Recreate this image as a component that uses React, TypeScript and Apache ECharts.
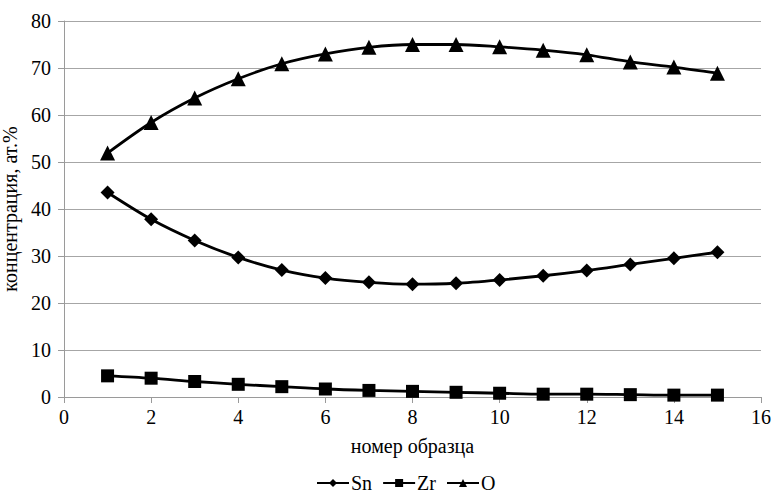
import React, { useEffect, useRef } from "react";
import * as echarts from "echarts";

const sampleNumbers = [1, 2, 3, 4, 5, 6, 7, 8, 9, 10, 11, 12, 13, 14, 15];
const snValues = [43.5, 37.8, 33.3, 29.7, 27.0, 25.3, 24.4, 24.0, 24.2, 24.9, 25.8, 26.9, 28.2, 29.5, 30.8];
const zrValues = [4.5, 4.0, 3.3, 2.7, 2.2, 1.7, 1.4, 1.2, 1.0, 0.8, 0.6, 0.6, 0.5, 0.4, 0.4];
const oValues = [51.9, 58.4, 63.6, 67.7, 70.9, 73.0, 74.4, 75.0, 75.0, 74.5, 73.8, 72.8, 71.3, 70.2, 68.9];

const FONT = "'Liberation Serif', 'Times New Roman', Times, serif";
const FS = 20;

export default function App() {
  const ref = useRef<HTMLDivElement>(null);
  useEffect(() => {
    if (!ref.current) return;
    const chart = echarts.init(ref.current, undefined, { renderer: "svg" });
    const mk = (name: string, vals: number[], symbol: string, size: number) => ({
      name,
      type: "line",
      smooth: 0.3,
      data: sampleNumbers.map((x, i) => [x, vals[i]]),
      symbol,
      symbolSize: size,
      lineStyle: { color: "#000", width: 2.8 },
      itemStyle: { color: "#000" },
    });
    const txt = { fontFamily: FONT, fontSize: FS, color: "#000", fontWeight: "normal" };
    chart.setOption({
      animation: false,
      textStyle: { fontFamily: FONT },
      grid: {
        left: 64,
        right: 12,
        top: 21,
        bottom: 102,
        containLabel: false,
        outerBoundsMode: "none",
      },
      legend: {
        bottom: 1,
        left: 311,
        itemWidth: 32,
        itemHeight: 10,
        itemGap: 10,
        textStyle: { ...txt, padding: [0, 0, 0, -3] },
        data: ["Sn", "Zr", "O"],
      },
      xAxis: {
        type: "value",
        min: 0,
        max: 16,
        interval: 2,
        name: "номер образца",
        nameLocation: "middle",
        nameGap: 39,
        nameTextStyle: txt,
        axisLine: { lineStyle: { color: "#9a9a9a" } },
        axisTick: { show: true, length: 6, lineStyle: { color: "#9a9a9a" } },
        axisLabel: { ...txt, margin: 10 },
        splitLine: { show: false },
      },
      yAxis: {
        type: "value",
        min: 0,
        max: 80,
        interval: 10,
        name: "концентрация, ат.%",
        nameLocation: "middle",
        nameGap: 40,
        nameTextStyle: txt,
        axisLine: { show: true, lineStyle: { color: "#9a9a9a" } },
        axisTick: { show: true, length: 6, lineStyle: { color: "#9a9a9a" } },
        axisLabel: { ...txt, margin: 13 },
        splitLine: { show: true, lineStyle: { color: "#a6a6a6", width: 1 } },
      },
      series: [
        mk("Sn", snValues, "diamond", 14),
        mk("Zr", zrValues, "rect", 13),
        mk("O", oValues, "triangle", 15),
      ],
    });
    return () => chart.dispose();
  }, []);
  return (
    <div
      ref={ref}
      style={{ position: "absolute", left: 0, top: 0, width: 773, height: 499 }}
    />
  );
}
